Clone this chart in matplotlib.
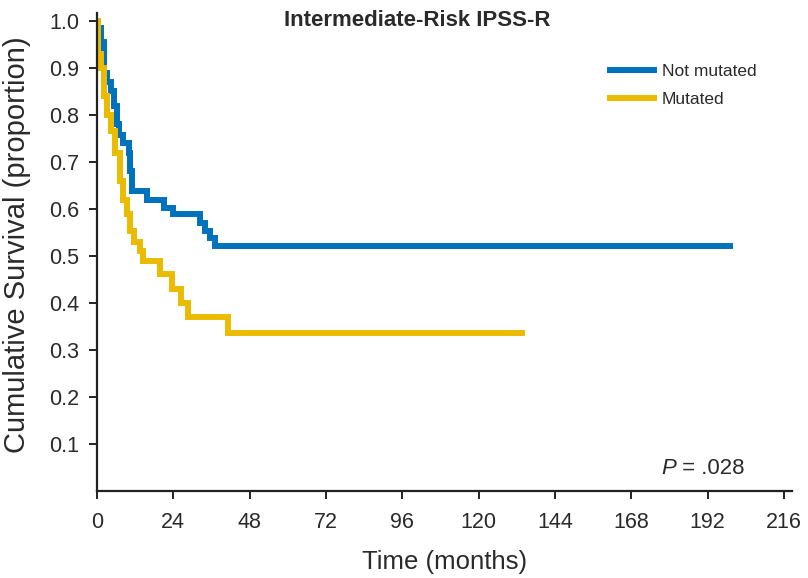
import matplotlib
matplotlib.use("Agg")
import matplotlib.pyplot as plt

# ---- data ----
blue_label = "Not mutated"
blue_t = [0, 1.3, 2.3, 3.3, 4.3, 5.3, 6.3, 7.0, 8.3, 10.0, 10.5, 11.0, 15.6, 21.0, 24.0, 32.4, 34.0, 35.5, 37.0, 199]
blue_s = [0.985, 0.955, 0.89, 0.87, 0.85, 0.82, 0.78, 0.758, 0.74, 0.72, 0.68, 0.638, 0.62, 0.602, 0.589, 0.571, 0.553, 0.539, 0.521, 0.521]

yellow_label = "Mutated"
yellow_t = [0, 0.3, 1.2, 2.2, 3.3, 4.3, 5.8, 7.3, 8.3, 9.5, 10.5, 11.5, 13.5, 14.6, 19.8, 23.6, 26.5, 28.5, 41.2, 133.6]
yellow_s = [1.0, 0.93, 0.90, 0.84, 0.80, 0.765, 0.72, 0.66, 0.62, 0.59, 0.553, 0.53, 0.51, 0.49, 0.462, 0.43, 0.40, 0.371, 0.337, 0.337]

x_ticks = [0, 24, 48, 72, 96, 120, 144, 168, 192, 216]
y_ticks = [0.1, 0.2, 0.3, 0.4, 0.5, 0.6, 0.7, 0.8, 0.9, 1.0]
title = "Intermediate-Risk IPSS-R"
p_text = " = .028"

plt.rcParams['font.family'] = ['Liberation Sans', 'DejaVu Sans']

W, H = 808, 578
fig = plt.figure(figsize=(W / 100, H / 100), dpi=100)
ax = fig.add_axes([97 / W, 1 - 491 / H, (792 - 97) / W, (491 - 13) / H])

blue = "#0072BC"
yellow = "#EABB00"
ax.step(blue_t, blue_s, where='post', color=blue, lw=4.3, label=blue_label, solid_joinstyle='miter')
ax.step(yellow_t, yellow_s, where='post', color=yellow, lw=4.3, label=yellow_label, solid_joinstyle='miter')
ax.set_xlim(0, 218.5)
ax.set_ylim(0, 1.017)

ax.set_xticks(x_ticks)
ax.set_xticklabels([str(v) for v in x_ticks])
ax.set_yticks(y_ticks)
ax.set_yticklabels([f"{v:.1f}" for v in y_ticks])
for s in ['top', 'right']:
    ax.spines[s].set_visible(False)
for s in ['left', 'bottom']:
    ax.spines[s].set_linewidth(1.6)
    ax.spines[s].set_color('#222222')
ax.tick_params(axis='both', direction='out', length=6, width=1.4, color='#222222',
               labelsize=15.5, labelcolor='#2a2a2a')
ax.tick_params(axis='x', pad=9)
ax.tick_params(axis='y', pad=7)

ax.set_xlabel("Time (months)", fontsize=18.5, color='#2a2a2a', labelpad=12)
ax.set_ylabel("Cumulative Survival (proportion)", fontsize=21, color='#2a2a2a')
ax.yaxis.set_label_coords(-0.095, 0.515)

fig.text(417 / W, 1 - 21 / H, title, ha='center', va='center', fontsize=16,
         fontweight='bold', color='#2a2a2a')

leg = ax.legend(loc='upper left', bbox_to_anchor=(601 / W, 1 - 55 / H),
                bbox_transform=fig.transFigure, frameon=False,
                handlelength=2.55, handletextpad=0.45, labelspacing=0.75, borderpad=0,
                prop={'size': 12.5})
for t in leg.get_texts():
    t.set_color('#2a2a2a')

fig.text(676 / W, 1 - 468 / H, "P", ha='right', va='center', fontsize=16,
         style='italic', color='#2a2a2a')
fig.text(676 / W, 1 - 468 / H, p_text, ha='left', va='center', fontsize=16,
         color='#2a2a2a')

fig.savefig("out.png", dpi=100)
